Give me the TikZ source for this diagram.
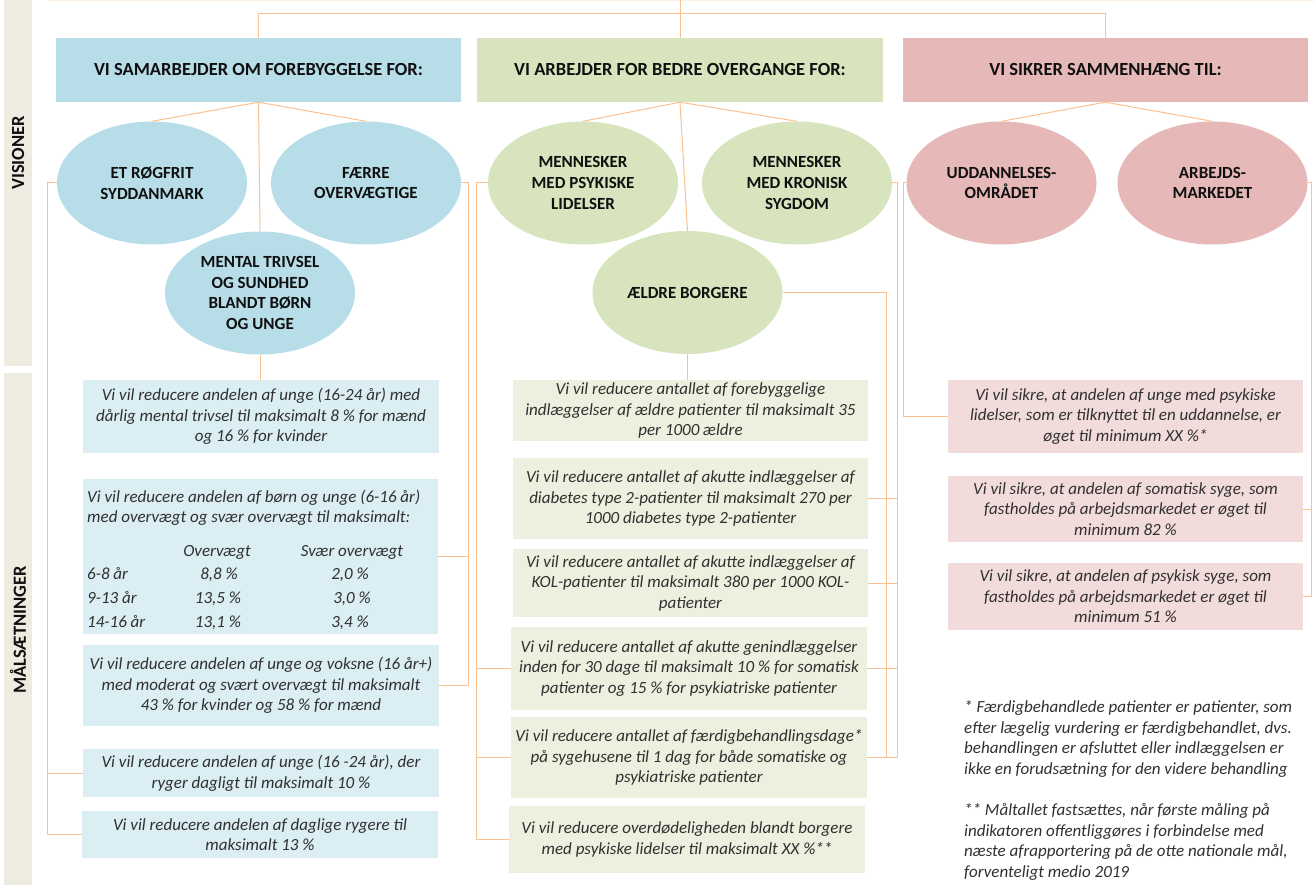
\documentclass[tikz,border=0pt]{standalone}
\usepackage{fontspec}
\setmainfont{Carlito}
\usetikzlibrary{shapes.geometric}
\definecolor{hblue}{HTML}{B7DDE8}
\definecolor{hgreen}{HTML}{D7E4BD}
\definecolor{hpink}{HTML}{E6B9B8}
\definecolor{oblue}{HTML}{DBEEF4}
\definecolor{ogreen}{HTML}{EBF1DE}
\definecolor{opink}{HTML}{F2DCDB}
\definecolor{side}{HTML}{EEECE1}
\definecolor{lc}{HTML}{FAC090}
\definecolor{faint}{HTML}{FDEEE2}
\definecolor{txt}{HTML}{303030}
\definecolor{btxt}{HTML}{101010}
\begin{document}
\begin{tikzpicture}[x=1pt,y=-1pt,
  conn/.style={draw=lc, line width=1pt},
  hdr/.style={rectangle, inner sep=0pt, minimum height=64pt, text=btxt,
    font=\fontsize{18.5}{22}\selectfont\bfseries},
  ell/.style={ellipse, inner sep=0pt, minimum width=190pt, minimum height=123pt,
    align=center, text=btxt, font=\fontsize{17}{20.7}\selectfont\bfseries},
  obj/.style={rectangle, inner sep=0pt, align=center, text=txt,
    font=\fontsize{17}{20.5}\selectfont\itshape},
  tt/.style={inner sep=0pt, text=txt, font=\fontsize{17}{20.5}\selectfont\itshape},
  sidelbl/.style={rotate=90, inner sep=0pt, text=btxt, font=\fontsize{18.5}{22}\selectfont\bfseries},
]
\useasboundingbox (0,0) rectangle (1314,885);

% side bars
\fill[side] (4,0) rectangle (32,366);
\fill[side] (4,373) rectangle (32,885);
\node[sidelbl] (vis) at (18,153) {VISIONER};
\node[sidelbl] (mal) at (18,630) {MÅLSÆTNINGER};

\draw[faint, line width=1pt] (48,0.5) -- (1314,0.5);

% headers
\node[hdr, fill=hblue, minimum width=405pt] (h1) at (258.5,70) {VI SAMARBEJDER OM FOREBYGGELSE FOR:};
\node[hdr, fill=hgreen, minimum width=406pt] (h2) at (680,70) {VI ARBEJDER FOR BEDRE OVERGANGE FOR:};
\node[hdr, fill=hpink, minimum width=405pt] (h3) at (1105.5,70) {VI SIKRER SAMMENHÆNG TIL:};

% ellipses
\node[ell, fill=hblue] (e1) at (152,183) {ET RØGFRIT\\SYDDANMARK};
\node[ell, fill=hblue] (e2) at (366,183) {FÆRRE\\OVERVÆGTIGE};
\node[ell, fill=hblue] (e3) at (260,293) {MENTAL TRIVSEL\\OG SUNDHED\\BLANDT BØRN\\OG UNGE};
\node[ell, fill=hgreen] (g1) at (583,183) {MENNESKER\\MED PSYKISKE\\LIDELSER};
\node[ell, fill=hgreen] (g2) at (797,183) {MENNESKER\\MED KRONISK\\SYGDOM};
\node[ell, fill=hgreen] (g3) at (687.5,292.5) {ÆLDRE BORGERE};
\node[ell, fill=hpink] (p1) at (1001.5,183) {UDDANNELSES-\\OMRÅDET};
\node[ell, fill=hpink] (p2) at (1212.5,183) {ARBEJDS-\\MARKEDET};

% blue objectives
\node[obj, fill=oblue, minimum width=356pt, minimum height=73pt] (b1) at (261,416.5)
  {Vi vil reducere andelen af unge (16-24 år) med\\dårlig mental trivsel til maksimalt 8 \% for mænd\\og 16 \% for kvinder};
\node[obj, fill=oblue, minimum width=355pt, minimum height=155pt] (b2) at (260.5,556.5) {};
\node[tt, anchor=base west] (b2a) at (87,502) {Vi vil reducere andelen af børn og unge (6-16 år)};
\node[tt, anchor=base west] (b2b) at (87,522) {med overvægt og svær overvægt til maksimalt:};
\node[tt, anchor=base] (th1) at (217,556) {Overvægt};
\node[tt, anchor=base] (th2) at (352,556) {Svær overvægt};
\node[tt, anchor=base west] (r1) at (87,579) {6-8 år};
\node[tt, anchor=base] (r1a) at (219,579) {8,8 \%};
\node[tt, anchor=base] (r1b) at (350,579) {2,0 \%};
\node[tt, anchor=base west] (r2) at (87,603) {9-13 år};
\node[tt, anchor=base] (r2a) at (218,603) {13,5 \%};
\node[tt, anchor=base] (r2b) at (352,603) {3,0 \%};
\node[tt, anchor=base west] (r3) at (87,627) {14-16 år};
\node[tt, anchor=base] (r3a) at (218,627) {13,1 \%};
\node[tt, anchor=base] (r3b) at (350,627) {3,4 \%};
\node[obj, fill=oblue, minimum width=356pt, minimum height=81pt] (b3) at (261,685.5)
  {Vi vil reducere andelen af unge og voksne (16 år+)\\med moderat og svært overvægt til maksimalt\\43 \% for kvinder og 58 \% for mænd};
\node[obj, fill=oblue, minimum width=356pt, minimum height=48pt] (b4) at (261,773)
  {Vi vil reducere andelen af unge (16 -24 år), der\\ryger dagligt til maksimalt 10 \%};
\node[obj, fill=oblue, minimum width=356pt, minimum height=47pt] (b5) at (260,834.5)
  {Vi vil reducere andelen af daglige rygere til\\maksimalt 13 \%};

% green objectives
\node[obj, fill=ogreen, minimum width=355pt, minimum height=61pt] (c1) at (690.5,410.5)
  {Vi vil reducere antallet af forebyggelige\\indlæggelser af ældre patienter til maksimalt 35\\per 1000 ældre};
\node[obj, fill=ogreen, minimum width=355pt, minimum height=81pt] (c2) at (690.5,498.5)
  {Vi vil reducere antallet af akutte indlæggelser af\\diabetes type 2-patienter til maksimalt 270 per\\1000 diabetes type 2-patienter};
\node[obj, fill=ogreen, minimum width=355pt, minimum height=68pt] (c3) at (690.5,583)
  {Vi vil reducere antallet af akutte indlæggelser af\\KOL-patienter til maksimalt 380 per 1000 KOL-\\patienter};
\node[obj, fill=ogreen, minimum width=356pt, minimum height=83pt] (c4) at (689,668.5)
  {Vi vil reducere antallet af akutte genindlæggelser\\inden for 30 dage til maksimalt 10 \% for somatisk\\patienter og 15 \% for psykiatriske patienter};
\node[obj, fill=ogreen, minimum width=356pt, minimum height=81pt] (c5) at (689,757.5)
  {Vi vil reducere antallet af færdigbehandlingsdage*\\på sygehusene til 1 dag for både somatiske og\\psykiatriske patienter};
\node[obj, fill=ogreen, minimum width=356pt, minimum height=67pt] (c6) at (687,839.5)
  {Vi vil reducere overdødeligheden blandt borgere\\med psykiske lidelser til maksimalt XX \%**};

% pink objectives
\node[obj, fill=opink, minimum width=355pt, minimum height=73pt] (q1) at (1125.5,416.5)
  {Vi vil sikre, at andelen af unge med psykiske\\lidelser, som er tilknyttet til en uddannelse, er\\øget til minimum XX \%*};
\node[obj, fill=opink, minimum width=355pt, minimum height=66pt] (q2) at (1125.5,509)
  {Vi vil sikre, at andelen af somatisk syge, som\\fastholdes på arbejdsmarkedet er øget til\\minimum 82 \%};
\node[obj, fill=opink, minimum width=355pt, minimum height=67pt] (q3) at (1125.5,596.5)
  {Vi vil sikre, at andelen af psykisk syge, som\\fastholdes på arbejdsmarkedet er øget til\\minimum 51 \%};

% footnotes
\node[tt, anchor=west, align=left] (fn1) at (964,739)
  {* Færdigbehandlede patienter er patienter, som\\efter lægelig vurdering er færdigbehandlet, dvs.\\behandlingen er afsluttet eller indlæggelsen er\\ikke en forudsætning for den videre behandling};
\node[tt, anchor=west, align=left] (fn2) at (964,842)
  {** Måltallet fastsættes, når første måling på\\indikatoren offentliggøres i forbindelse med\\næste afrapportering på de otte nationale mål,\\forventeligt medio 2019};

% connectors: top
\coordinate (top) at (680,0);
\coordinate (tj) at (680,14);
\draw[conn] (top) -- (h2.north);
\draw[conn] (h1.north) |- (h3.north |- tj) -- (h3.north);

% header to ellipses
\draw[conn] (h1.south) -- (e1.north);
\draw[conn] (h1.south) -- (e2.north);
\draw[conn] (h1.south) -- (e3.north);
\draw[conn] (h2.south) -- (g1.north);
\draw[conn] (h2.south) -- (g2.north);
\draw[conn] (h2.south) -- (g3.north);
\draw[conn] (h3.south) -- (p1.north);
\draw[conn] (h3.south) -- (p2.north);

% blue
\draw[conn] (e3.south) -- (e3.south |- b1.north);
\coordinate (bl) at (47,183);
\draw[conn] (e1.west) -- (bl) |- (b5.west);
\draw[conn] (bl |- b4.west) -- (b4.west);
\coordinate (br) at (468,183);
\draw[conn] (e2.east) -- (br) |- (b3.east);
\draw[conn] (br |- b2.east) -- (b2.east);

% green
\draw[conn] (g3.south) -- (g3.south |- c1.north);
\coordinate (gl) at (476,183);
\draw[conn] (g1.west) -- (gl) |- (c6.west);
\draw[conn] (gl |- c4.west) -- (c4.west);
\draw[conn] (gl |- c5.west) -- (c5.west);
\coordinate (gr1) at (886,292.5);
\draw[conn] (g3.east) -- (gr1) -- (gr1 |- c5.east);
\coordinate (gr2) at (897,183);
\draw[conn] (g2.east) -- (gr2) |- (c5.east);
\draw[conn] (gr2 |- c2.east) -- (c2.east);
\draw[conn] (gr2 |- c3.east) -- (c3.east);
\draw[conn] (gr2 |- c4.east) -- (c4.east);

% pink
\coordinate (pl) at (903,183);
\draw[conn] (p1.west) -- (pl) |- (q1.west);
\coordinate (pr) at (1311,183);
\draw[conn] (p2.east) -- (pr) |- (q3.east);
\draw[conn] (pr |- q2.east) -- (q2.east);
\end{tikzpicture}
\end{document}
